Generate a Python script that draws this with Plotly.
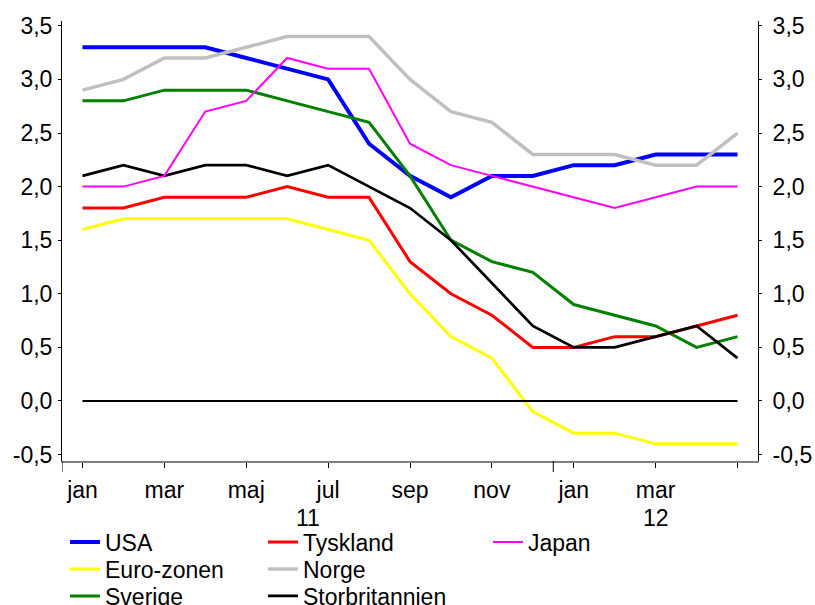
import plotly.graph_objects as go

months = list(range(17))  # jan 2011 .. maj 2012
tick_vals = [0, 2, 4, 6, 8, 10, 12, 14, 16]
tick_text = ["jan", "mar", "maj", "jul", "sep", "nov", "jan", "mar", ""]
year_labels = ["11", "12"]
year_centers = [5.5, 14]
year_bounds = [-0.5, 11.5]
y_tick_vals = [-0.5, 0.0, 0.5, 1.0, 1.5, 2.0, 2.5, 3.0, 3.5]
y_tick_text = ["-0,5", "0,0", "0,5", "1,0", "1,5", "2,0", "2,5", "3,0", "3,5"]

usa = [3.3, 3.3, 3.3, 3.3, 3.2, 3.1, 3.0, 2.4, 2.1, 1.9, 2.1, 2.1, 2.2, 2.2, 2.3, 2.3, 2.3]
euro = [1.6, 1.7, 1.7, 1.7, 1.7, 1.7, 1.6, 1.5, 1.0, 0.6, 0.4, -0.1, -0.3, -0.3, -0.4, -0.4, -0.4]
sverige = [2.8, 2.8, 2.9, 2.9, 2.9, 2.8, 2.7, 2.6, 2.1, 1.5, 1.3, 1.2, 0.9, 0.8, 0.7, 0.5, 0.6]
tyskland = [1.8, 1.8, 1.9, 1.9, 1.9, 2.0, 1.9, 1.9, 1.3, 1.0, 0.8, 0.5, 0.5, 0.6, 0.6, 0.7, 0.8]
norge = [2.9, 3.0, 3.2, 3.2, 3.3, 3.4, 3.4, 3.4, 3.0, 2.7, 2.6, 2.3, 2.3, 2.3, 2.2, 2.2, 2.5]
storbritannien = [2.1, 2.2, 2.1, 2.2, 2.2, 2.1, 2.2, 2.0, 1.8, 1.5, 1.1, 0.7, 0.5, 0.5, 0.6, 0.7, 0.4]
japan = [2.0, 2.0, 2.1, 2.7, 2.8, 3.2, 3.1, 3.1, 2.4, 2.2, 2.1, 2.0, 1.9, 1.8, 1.9, 2.0, 2.0]
zero = [0.0] * len(months)

FONT = "Arial, Liberation Sans, sans-serif"
W, H = 815, 605

series = [
    ("USA", usa, "#0000FF", 4, "legend", 65, 542),
    ("Euro-zonen", euro, "#FFFF00", 3, "legend2", 65, 569),
    ("Sverige", sverige, "#008000", 3, "legend3", 65, 596),
    ("Tyskland", tyskland, "#FF0000", 3, "legend4", 263, 542),
    ("Norge", norge, "#C0C0C0", 3.5, "legend5", 263, 569),
    ("Storbritannien", storbritannien, "#000000", 2.7, "legend6", 263, 596),
    ("Japan", japan, "#FF00FF", 2, "legend7", 488, 542),
]

fig = go.Figure()
legends = {}
for name, vals, color, lw, leg, lx, ly in series:
    fig.add_trace(go.Scatter(x=months, y=vals, mode="lines", name=name,
                             line=dict(color=color, width=lw), legend=leg))
    legends[leg] = dict(xref="container", yref="container", visible=True,
                        x=lx / W, y=1 - ly / H, xanchor="left", yanchor="middle",
                        font=dict(family=FONT, size=23, color="#000000"),
                        bgcolor="rgba(0,0,0,0)", borderwidth=0, itemwidth=30)

fig.add_trace(go.Scatter(x=months, y=zero, mode="lines", yaxis="y2", showlegend=False,
                         line=dict(color="#000000", width=2), hoverinfo="skip"))

for xb in year_bounds:
    fig.add_shape(type="line", xref="x", yref="paper", x0=xb, x1=xb, y0=0, y1=-0.025,
                  line=dict(color="#000000", width=1))
for lab, xc in zip(year_labels, year_centers):
    fig.add_annotation(x=xc, xref="x", y=-0.13, yref="paper", text=lab, showarrow=False,
                       yanchor="middle", font=dict(family=FONT, size=23, color="#000000"))

yr = [-0.56, 3.545]
yax = dict(range=yr, tickvals=y_tick_vals, ticktext=y_tick_text, showgrid=False, zeroline=False,
           showline=True, linecolor="#000000", linewidth=1, ticks="outside", ticklen=3,
           tickcolor="#000000", tickfont=dict(family=FONT, size=23))
fig.update_layout(
    width=W, height=H,
    margin=dict(l=62, r=57, t=21, b=144, autoexpand=False),
    plot_bgcolor="white", paper_bgcolor="white",
    showlegend=True,
    font=dict(family=FONT, size=23, color="#000000"),
    xaxis=dict(range=[-0.5, 16.5], tickvals=tick_vals, ticktext=tick_text,
               showgrid=False, zeroline=False, showline=True, linecolor="#808080", linewidth=2,
               ticks="outside", ticklen=5, tickcolor="#000000", tickwidth=1,
               ticklabelstandoff=2, tickfont=dict(family=FONT, size=23)),
    yaxis=dict(yax, ticklabelstandoff=1),
    yaxis2=dict(yax, overlaying="y", side="right", anchor="x", ticklabelstandoff=6),
    **legends,
)

fig.write_html("out.html", config={"displayModeBar": False},
               post_script="document.body.style.margin='0';")
